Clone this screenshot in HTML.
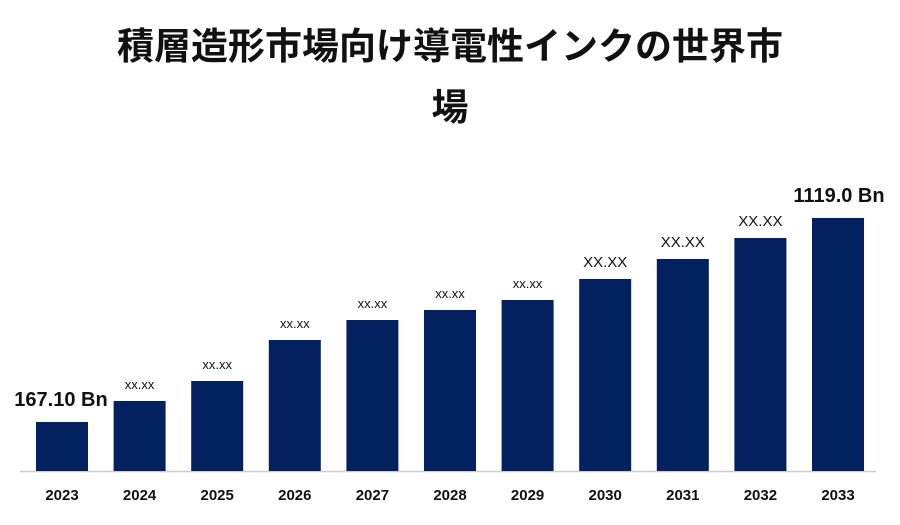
<!DOCTYPE html>
<html><head><meta charset="utf-8">
<style>
html,body{margin:0;padding:0;background:#fff;}
#wrap{position:relative;width:900px;height:525px;overflow:hidden;font-family:"Liberation Sans","Noto Sans CJK JP",sans-serif;}
#title{position:absolute;left:0;top:16px;width:900px;text-align:center;font-weight:bold;font-size:37px;line-height:61px;color:#111;}
</style></head>
<body>
<div id="wrap">
<div id="title">積層造形市場向け導電性インクの世界市<br>場</div>
<svg id="chart" width="900" height="525" style="position:absolute;left:0;top:0"></svg>
</div>
<script>
const categories=["2023","2024","2025","2026","2027","2028","2029","2030","2031","2032","2033"];
const values=[49,70,90,131,151,161,171,192,212,233,253];
const valueLabels=["167.10 Bn","xx.xx","xx.xx","xx.xx","xx.xx","xx.xx","xx.xx","XX.XX","XX.XX","XX.XX","1119.0 Bn"];
const NS="http://www.w3.org/2000/svg";
const svg=document.getElementById('chart');
const baseY=471, plotH=253, maxV=253;
const x0=36, step=77.6, bw=52;
function xScale(i){return x0+i*step;}
function yScale(v){return baseY-v/maxV*plotH;}
const axis=document.createElementNS(NS,'line');
axis.setAttribute('x1',20);axis.setAttribute('x2',876);axis.setAttribute('y1',baseY+0.5);axis.setAttribute('y2',baseY+0.5);
axis.setAttribute('stroke','#ccc');axis.setAttribute('stroke-width',1.5);


svg.appendChild(axis);
categories.forEach((c,i)=>{
  const x=xScale(i),y=yScale(values[i]);
  const r=document.createElementNS(NS,'rect');
  r.setAttribute('x',x);r.setAttribute('y',y);r.setAttribute('width',bw);r.setAttribute('height',baseY-y);
  r.setAttribute('fill','#03215f');
  
  
  svg.appendChild(r);
  const t=document.createElementNS(NS,'text');
  t.setAttribute('x',x+bw/2);t.setAttribute('y',500);t.setAttribute('text-anchor','middle');
  t.setAttribute('font-family','Liberation Sans, sans-serif');t.setAttribute('font-weight','bold');t.setAttribute('font-size','15');t.setAttribute('fill','#111');
  t.textContent=c;
  
  
  svg.appendChild(t);
  const l=document.createElementNS(NS,'text');
  const lab=valueLabels[i];
  let fs=13,fw='normal';
  if(lab.indexOf('Bn')>=0){fs=20;fw='bold';}else if(lab==='XX.XX'){fs=15;}
  l.setAttribute('x',i===0?61:(i===categories.length-1?x+bw/2+1:x+bw/2));
  l.setAttribute('y',y-(lab.indexOf('Bn')>=0?16:12));
  l.setAttribute('text-anchor','middle');
  l.setAttribute('font-family','Liberation Sans, sans-serif');l.setAttribute('font-weight',fw);l.setAttribute('font-size',fs);l.setAttribute('fill','#111');
  l.textContent=lab;
  
  
  svg.appendChild(l);
});
</script>
</body></html>
